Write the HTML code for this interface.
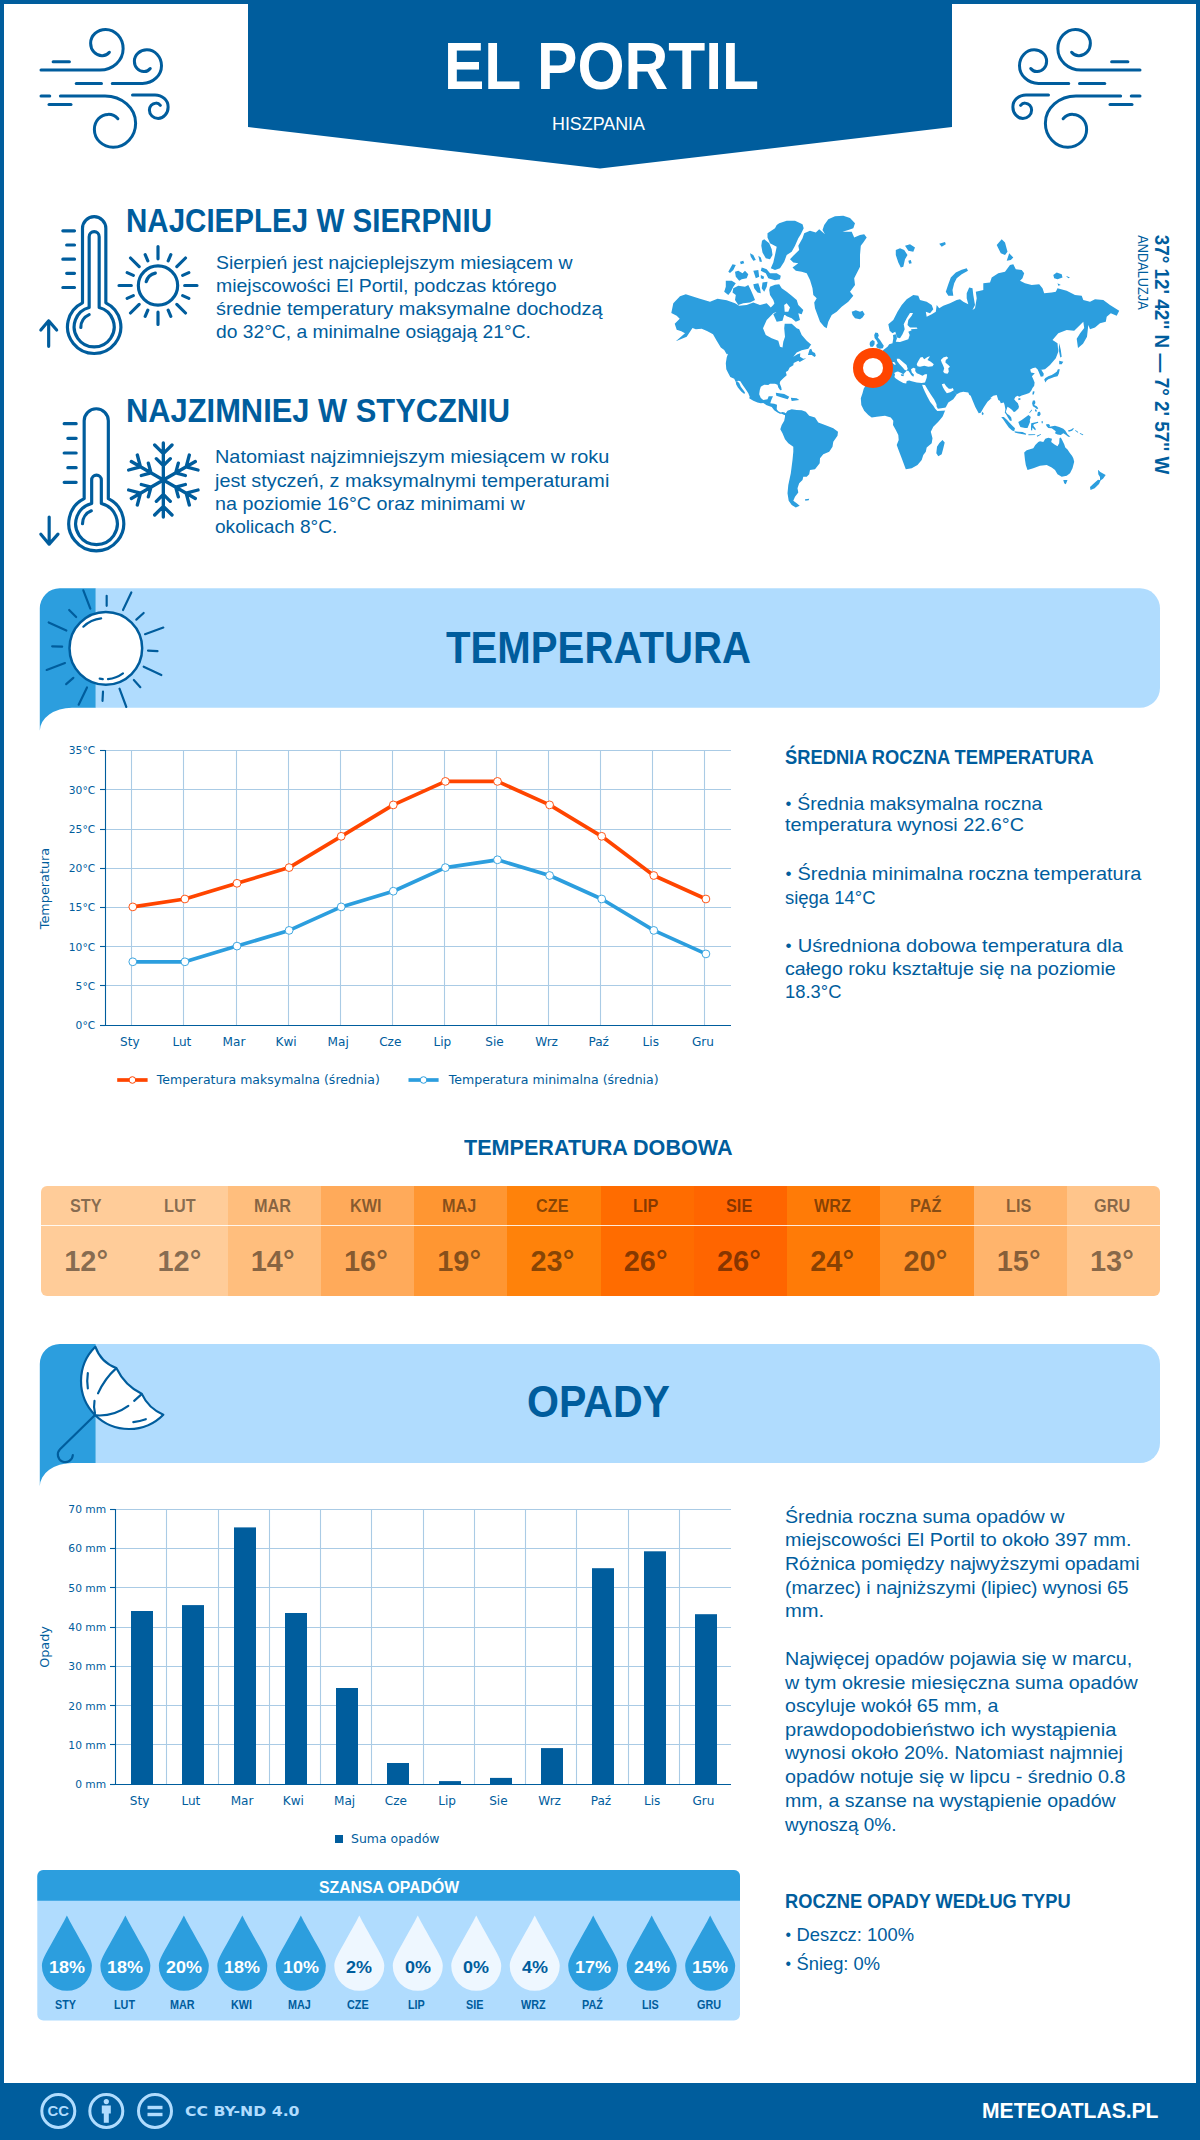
<!DOCTYPE html>
<html lang="pl"><head><meta charset="utf-8"><title>El Portil – klimat i pogoda</title>
<style>
html,body{margin:0;padding:0;background:#fff}
body{font-family:"Liberation Sans", sans-serif;color:#005d9d}
#page{position:relative;width:1200px;height:2140px;overflow:hidden;background:#fff}
#page>div,#page>svg{position:absolute}
#frame{left:0;top:0;width:1192px;height:2136px;border:4px solid #005d9d;border-bottom:0;box-sizing:content-box}
.t{position:absolute;white-space:nowrap;line-height:1;transform-origin:0 50%;color:#005d9d}
.w{color:#fff}
#texts{left:0;top:0;width:1200px;height:2140px}
svg{overflow:visible}
svg text{font-family:"DejaVu Sans", sans-serif;fill:#005d9d}
.b{display:inline-block;transform:scale(.86);transform-origin:50% 52%}

</style></head>
<body>
<div id="page">
<div id="frame"></div>
<svg id="hdr" style="left:0;top:0" width="1200" height="180" viewBox="0 0 1200 180"><polygon points="248,0 952,0 952,127 600,168.5 248,127" fill="#005d9d"/></svg>
<div id="footer" style="left:0;top:2083px;width:1200px;height:57px;background:#005d9d"></div>

<svg id="ban1" style="left:0;top:580px" width="1200" height="160" viewBox="0 580 1200 160">
<path d="M39.8,730.8 V608.3 a20,20 0 0 1 20,-20 H95.8 V707.75 H72 A32.2,23 0 0 0 39.8,730.8 Z" fill="#2c9ede"/>
<path d="M95.8,588.3 H1140 a20,20 0 0 1 20,20 V687.75 a20,20 0 0 1 -20,20 H95.8 Z" fill="#b0dcfe"/>
</svg>
<svg id="ban2" style="left:0;top:1335px" width="1200" height="160" viewBox="0 1335 1200 160">
<path d="M39.8,1486.3 V1364 a20,20 0 0 1 20,-20 H95.8 V1463 H72 A32.2,23.3 0 0 0 39.8,1486.3 Z" fill="#2c9ede"/>
<path d="M95.8,1344 H1140 a20,20 0 0 1 20,20 V1443 a20,20 0 0 1 -20,20 H95.8 Z" fill="#b0dcfe"/>
</svg>

<div id="dobowa" style="left:41px;top:1186px;width:1119px;height:110px;border-radius:6px;overflow:hidden">
<div style="position:absolute;left:0.0px;top:0;width:93.75px;height:110px;background:rgb(255, 204, 153)"></div><div style="position:absolute;left:93.25px;top:0;width:93.75px;height:110px;background:rgb(255, 204, 153)"></div><div style="position:absolute;left:186.5px;top:0;width:93.75px;height:110px;background:rgb(255, 190, 125)"></div><div style="position:absolute;left:279.75px;top:0;width:93.75px;height:110px;background:rgb(255, 170, 90)"></div><div style="position:absolute;left:373.0px;top:0;width:93.75px;height:110px;background:rgb(255, 150, 50)"></div><div style="position:absolute;left:466.25px;top:0;width:93.75px;height:110px;background:rgb(255, 130, 10)"></div><div style="position:absolute;left:559.5px;top:0;width:93.75px;height:110px;background:rgb(255, 108, 0)"></div><div style="position:absolute;left:652.75px;top:0;width:93.75px;height:110px;background:rgb(255, 101, 0)"></div><div style="position:absolute;left:746.0px;top:0;width:93.75px;height:110px;background:rgb(255, 123, 7)"></div><div style="position:absolute;left:839.25px;top:0;width:93.75px;height:110px;background:rgb(255, 145, 40)"></div><div style="position:absolute;left:932.5px;top:0;width:93.75px;height:110px;background:rgb(255, 180, 108)"></div><div style="position:absolute;left:1025.75px;top:0;width:93.75px;height:110px;background:rgb(255, 197, 139)"></div>
<div style="position:absolute;left:0;top:38.5px;width:1119px;height:1.5px;background:rgba(255,255,255,.85)"></div>
</div>

<svg id="chart1" style="left:0;top:735px" width="760" height="370" viewBox="0 735 760 370">
<g stroke="#aacbe5" stroke-width="1.1" fill="none">
<path d="M131.5,750.6 V1025.1"/><path d="M183.5,750.6 V1025.1"/><path d="M236.5,750.6 V1025.1"/><path d="M288.5,750.6 V1025.1"/><path d="M340.5,750.6 V1025.1"/><path d="M392.5,750.6 V1025.1"/><path d="M444.5,750.6 V1025.1"/><path d="M496.5,750.6 V1025.1"/><path d="M548.5,750.6 V1025.1"/><path d="M600.5,750.6 V1025.1"/><path d="M652.5,750.6 V1025.1"/><path d="M704.5,750.6 V1025.1"/>
<path d="M105.5,985.5 H731"/><path d="M105.5,946.5 H731"/><path d="M105.5,907.5 H731"/><path d="M105.5,868.5 H731"/><path d="M105.5,829.5 H731"/><path d="M105.5,789.5 H731"/><path d="M105.5,750.5 H731"/></g>
<g stroke="#005d9d" stroke-width="1.1" fill="none"><path d="M105.5,750.0 V1025.5 H731"/><path d="M100.0,1025.5 H105.5"/><path d="M100.0,985.5 H105.5"/><path d="M100.0,946.5 H105.5"/><path d="M100.0,907.5 H105.5"/><path d="M100.0,868.5 H105.5"/><path d="M100.0,829.5 H105.5"/><path d="M100.0,789.5 H105.5"/><path d="M100.0,750.5 H105.5"/></g>
<g font-size="10.7" text-anchor="end"><text x="95.2" y="1028.9">0°C</text><text x="95.2" y="989.7">5°C</text><text x="95.2" y="950.5">10°C</text><text x="95.2" y="911.3">15°C</text><text x="95.2" y="872.0">20°C</text><text x="95.2" y="832.8">25°C</text><text x="95.2" y="793.6">30°C</text><text x="95.2" y="754.4">35°C</text></g>
<g font-size="12.1" text-anchor="middle"><text x="129.8" y="1046.1">Sty</text><text x="181.9" y="1046.1">Lut</text><text x="234.0" y="1046.1">Mar</text><text x="286.1" y="1046.1">Kwi</text><text x="338.2" y="1046.1">Maj</text><text x="390.3" y="1046.1">Cze</text><text x="442.4" y="1046.1">Lip</text><text x="494.5" y="1046.1">Sie</text><text x="546.6" y="1046.1">Wrz</text><text x="598.7" y="1046.1">Paź</text><text x="650.8" y="1046.1">Lis</text><text x="702.9" y="1046.1">Gru</text></g>
<text font-size="12.8" text-anchor="middle" transform="translate(49.2,888.5) rotate(-90)">Temperatura</text>
<polyline points="132.8,906.9 184.9,899.0 237.0,883.3 289.1,867.6 341.2,836.3 393.3,804.9 445.4,781.4 497.5,781.4 549.6,804.9 601.7,836.3 653.8,875.5 705.9,899.0" fill="none" stroke="#ff4500" stroke-width="3.7" stroke-linejoin="round"/>
<g fill="#fff" stroke="#ff4500" stroke-width="0.9"><circle cx="132.8" cy="906.9" r="3.9"/><circle cx="184.9" cy="899.0" r="3.9"/><circle cx="237.0" cy="883.3" r="3.9"/><circle cx="289.1" cy="867.6" r="3.9"/><circle cx="341.2" cy="836.3" r="3.9"/><circle cx="393.3" cy="804.9" r="3.9"/><circle cx="445.4" cy="781.4" r="3.9"/><circle cx="497.5" cy="781.4" r="3.9"/><circle cx="549.6" cy="804.9" r="3.9"/><circle cx="601.7" cy="836.3" r="3.9"/><circle cx="653.8" cy="875.5" r="3.9"/><circle cx="705.9" cy="899.0" r="3.9"/></g>
<polyline points="132.8,961.8 184.9,961.8 237.0,946.1 289.1,930.4 341.2,906.9 393.3,891.2 445.4,867.6 497.5,859.8 549.6,875.5 601.7,899.0 653.8,930.4 705.9,953.9" fill="none" stroke="#2c9ede" stroke-width="3.7" stroke-linejoin="round"/>
<g fill="#fff" stroke="#2c9ede" stroke-width="0.9"><circle cx="132.8" cy="961.8" r="3.9"/><circle cx="184.9" cy="961.8" r="3.9"/><circle cx="237.0" cy="946.1" r="3.9"/><circle cx="289.1" cy="930.4" r="3.9"/><circle cx="341.2" cy="906.9" r="3.9"/><circle cx="393.3" cy="891.2" r="3.9"/><circle cx="445.4" cy="867.6" r="3.9"/><circle cx="497.5" cy="859.8" r="3.9"/><circle cx="549.6" cy="875.5" r="3.9"/><circle cx="601.7" cy="899.0" r="3.9"/><circle cx="653.8" cy="930.4" r="3.9"/><circle cx="705.9" cy="953.9" r="3.9"/></g>
<path d="M117.2,1080 H147.6" stroke="#ff4500" stroke-width="3.7"/><circle cx="132.4" cy="1080" r="3.3" fill="#fff" stroke="#ff4500"/><text x="156.8" y="1084" font-size="12.1" textLength="223" lengthAdjust="spacingAndGlyphs">Temperatura maksymalna (średnia)</text>
<path d="M408.5,1080 H438.6" stroke="#2c9ede" stroke-width="3.7"/><circle cx="423.5" cy="1080" r="3.3" fill="#fff" stroke="#2c9ede"/><text x="448.7" y="1084" font-size="12.1" textLength="210" lengthAdjust="spacingAndGlyphs">Temperatura minimalna (średnia)</text>
</svg>

<svg id="chart2" style="left:0;top:1495px" width="760" height="365" viewBox="0 1495 760 365">
<g stroke="#aacbe5" stroke-width="1.1" fill="none">
<path d="M166.5,1509.3 V1784.2"/><path d="M218.5,1509.3 V1784.2"/><path d="M269.5,1509.3 V1784.2"/><path d="M320.5,1509.3 V1784.2"/><path d="M371.5,1509.3 V1784.2"/><path d="M423.5,1509.3 V1784.2"/><path d="M474.5,1509.3 V1784.2"/><path d="M525.5,1509.3 V1784.2"/><path d="M576.5,1509.3 V1784.2"/><path d="M628.5,1509.3 V1784.2"/><path d="M679.5,1509.3 V1784.2"/>
<path d="M115.5,1744.5 H731"/><path d="M115.5,1705.5 H731"/><path d="M115.5,1666.5 H731"/><path d="M115.5,1627.5 H731"/><path d="M115.5,1587.5 H731"/><path d="M115.5,1548.5 H731"/><path d="M115.5,1509.5 H731"/></g>
<g fill="#005d9d"><rect x="131" y="1611.0" width="22" height="173.2"/><rect x="182" y="1605.1" width="22" height="179.1"/><rect x="234" y="1527.4" width="22" height="256.8"/><rect x="285" y="1613.0" width="22" height="171.2"/><rect x="336" y="1688.0" width="22" height="96.2"/><rect x="387" y="1763.0" width="22" height="21.2"/><rect x="439" y="1781.1" width="22" height="3.1"/><rect x="490" y="1777.9" width="22" height="6.3"/><rect x="541" y="1748.1" width="22" height="36.1"/><rect x="592" y="1568.2" width="22" height="216.0"/><rect x="644" y="1551.3" width="22" height="232.9"/><rect x="695" y="1614.2" width="22" height="170.0"/></g>
<g stroke="#005d9d" stroke-width="1.1" fill="none"><path d="M115.5,1509.0 V1784.5 H731"/><path d="M110.0,1784.5 H115.5"/><path d="M110.0,1744.5 H115.5"/><path d="M110.0,1705.5 H115.5"/><path d="M110.0,1666.5 H115.5"/><path d="M110.0,1627.5 H115.5"/><path d="M110.0,1587.5 H115.5"/><path d="M110.0,1548.5 H115.5"/><path d="M110.0,1509.5 H115.5"/></g>
<g font-size="10.7" text-anchor="end"><text x="106.2" y="1788.0">0 mm</text><text x="106.2" y="1748.7">10 mm</text><text x="106.2" y="1709.5">20 mm</text><text x="106.2" y="1670.2">30 mm</text><text x="106.2" y="1630.9">40 mm</text><text x="106.2" y="1591.6">50 mm</text><text x="106.2" y="1552.4">60 mm</text><text x="106.2" y="1513.1">70 mm</text></g>
<g font-size="12.1" text-anchor="middle"><text x="139.6" y="1805.1">Sty</text><text x="190.9" y="1805.1">Lut</text><text x="242.1" y="1805.1">Mar</text><text x="293.4" y="1805.1">Kwi</text><text x="344.6" y="1805.1">Maj</text><text x="395.9" y="1805.1">Cze</text><text x="447.1" y="1805.1">Lip</text><text x="498.4" y="1805.1">Sie</text><text x="549.6" y="1805.1">Wrz</text><text x="600.9" y="1805.1">Paź</text><text x="652.1" y="1805.1">Lis</text><text x="703.4" y="1805.1">Gru</text></g>
<text font-size="12.8" text-anchor="middle" transform="translate(49.2,1647) rotate(-90)">Opady</text>
<rect x="335" y="1835" width="8" height="8" fill="#005d9d"/><text x="351" y="1843" font-size="12.1" textLength="88.5" lengthAdjust="spacingAndGlyphs">Suma opadów</text>
</svg>

<svg id="szansa" style="left:0;top:1860px" width="760" height="170" viewBox="0 1860 760 170">
<path d="M37.3,2014.5 V1876 a6,6 0 0 1 6,-6 H734 a6,6 0 0 1 6,6 V2014.5 a6,6 0 0 1 -6,6 H43.3 a6,6 0 0 1 -6,-6 Z" fill="#b0dcfe"/>
<path d="M37.3,1900.7 V1876 a6,6 0 0 1 6,-6 H734 a6,6 0 0 1 6,6 V1900.7 Z" fill="#2c9ede"/>
<path transform="translate(66.90,1965.8)" d="M0,-50.3 C3,-44 10,-32 15.5,-22 C21,-12 25,-6 25,0 A25,25 0 1 1 -25,0 C-25,-6 -21,-12 -15.5,-22 C-10,-32 -3,-44 0,-50.3 Z" fill="#2c9ede"/>
<path transform="translate(125.38,1965.8)" d="M0,-50.3 C3,-44 10,-32 15.5,-22 C21,-12 25,-6 25,0 A25,25 0 1 1 -25,0 C-25,-6 -21,-12 -15.5,-22 C-10,-32 -3,-44 0,-50.3 Z" fill="#2c9ede"/>
<path transform="translate(183.86,1965.8)" d="M0,-50.3 C3,-44 10,-32 15.5,-22 C21,-12 25,-6 25,0 A25,25 0 1 1 -25,0 C-25,-6 -21,-12 -15.5,-22 C-10,-32 -3,-44 0,-50.3 Z" fill="#2c9ede"/>
<path transform="translate(242.34,1965.8)" d="M0,-50.3 C3,-44 10,-32 15.5,-22 C21,-12 25,-6 25,0 A25,25 0 1 1 -25,0 C-25,-6 -21,-12 -15.5,-22 C-10,-32 -3,-44 0,-50.3 Z" fill="#2c9ede"/>
<path transform="translate(300.82,1965.8)" d="M0,-50.3 C3,-44 10,-32 15.5,-22 C21,-12 25,-6 25,0 A25,25 0 1 1 -25,0 C-25,-6 -21,-12 -15.5,-22 C-10,-32 -3,-44 0,-50.3 Z" fill="#2c9ede"/>
<path transform="translate(359.30,1965.8)" d="M0,-50.3 C3,-44 10,-32 15.5,-22 C21,-12 25,-6 25,0 A25,25 0 1 1 -25,0 C-25,-6 -21,-12 -15.5,-22 C-10,-32 -3,-44 0,-50.3 Z" fill="#eef7ff"/>
<path transform="translate(417.78,1965.8)" d="M0,-50.3 C3,-44 10,-32 15.5,-22 C21,-12 25,-6 25,0 A25,25 0 1 1 -25,0 C-25,-6 -21,-12 -15.5,-22 C-10,-32 -3,-44 0,-50.3 Z" fill="#eef7ff"/>
<path transform="translate(476.26,1965.8)" d="M0,-50.3 C3,-44 10,-32 15.5,-22 C21,-12 25,-6 25,0 A25,25 0 1 1 -25,0 C-25,-6 -21,-12 -15.5,-22 C-10,-32 -3,-44 0,-50.3 Z" fill="#eef7ff"/>
<path transform="translate(534.74,1965.8)" d="M0,-50.3 C3,-44 10,-32 15.5,-22 C21,-12 25,-6 25,0 A25,25 0 1 1 -25,0 C-25,-6 -21,-12 -15.5,-22 C-10,-32 -3,-44 0,-50.3 Z" fill="#eef7ff"/>
<path transform="translate(593.22,1965.8)" d="M0,-50.3 C3,-44 10,-32 15.5,-22 C21,-12 25,-6 25,0 A25,25 0 1 1 -25,0 C-25,-6 -21,-12 -15.5,-22 C-10,-32 -3,-44 0,-50.3 Z" fill="#2c9ede"/>
<path transform="translate(651.70,1965.8)" d="M0,-50.3 C3,-44 10,-32 15.5,-22 C21,-12 25,-6 25,0 A25,25 0 1 1 -25,0 C-25,-6 -21,-12 -15.5,-22 C-10,-32 -3,-44 0,-50.3 Z" fill="#2c9ede"/>
<path transform="translate(710.18,1965.8)" d="M0,-50.3 C3,-44 10,-32 15.5,-22 C21,-12 25,-6 25,0 A25,25 0 1 1 -25,0 C-25,-6 -21,-12 -15.5,-22 C-10,-32 -3,-44 0,-50.3 Z" fill="#2c9ede"/>
</svg>

<svg id="windL" style="left:30px;top:20px" width="150" height="135" viewBox="0 0 1200 1080" fill="none" stroke="#005d9d" stroke-width="24" stroke-linecap="round" stroke-linejoin="round">
<g id="windg">
<path d="M185,333 H315"/>
<path d="M88,400 H560 A185,170 0 0 0 745,230 A140,155 0 0 0 605,75 A120,110 0 0 0 485,185 A90,100 0 0 0 575,285 A72,72 0 0 0 635,258"/>
<path d="M370,507 H572"/>
<path d="M658,507 H900 A152,142 0 0 0 1052,365 A117,127 0 0 0 935,238 A100,92 0 0 0 835,330 A75,82 0 0 0 910,412 A60,60 0 0 0 962,388"/>
<path d="M88,608 H158"/>
<path d="M243,608 H600 A245,217 0 0 1 845,825 A180,193 0 0 1 665,1018 A150,143 0 0 1 515,875 A110,120 0 0 1 625,755 A100,100 0 0 1 703,790"/>
<path d="M152,675 H328"/>
<path d="M820,600 H1000 A105,95 0 0 1 1105,695 A80,93 0 0 1 1025,788 A70,68 0 0 1 955,720 A50,55 0 0 1 1005,665 A45,45 0 0 1 1043,683"/>
</g>
</svg>
<svg id="windR" style="left:1001px;top:20px" width="150" height="135" viewBox="0 0 1200 1080" fill="none" stroke="#005d9d" stroke-width="24" stroke-linecap="round" stroke-linejoin="round">
<use href="#windg" transform="translate(1200,0) scale(-1,1)"/>
</svg>
<svg id="thermoHot" style="left:20px;top:190px" width="200" height="180" viewBox="0 0 1200 1080" fill="none" stroke="#005d9d" stroke-width="19" stroke-linecap="round" stroke-linejoin="round">
<path d="M375,677 V230 A70,70 0 0 1 515,230 V677 A160,160 0 1 1 375,677 Z"/>
<path d="M415,705 V280 A30,30 0 0 1 475,280 V705 A120,120 0 1 1 415,705 Z"/>
<path d="M365,825 A82,82 0 0 1 415,748"/>
<path d="M257,245 H327 M280,330 H327 M257,415 H327 M280,500 H327 M257,585 H327"/>
<path d="M172,938 V785 M125,840 L172,785 L220,840"/>
<circle cx="828" cy="573" r="118"/>
<path d="M757,550 A75,75 0 0 1 812,499"/>
<path d="M988,573 L1062,573 M976,634 L1013,650 M941,686 L993,738 M889,721 L905,758 M828,733 L828,807 M767,721 L751,758 M715,686 L663,738 M680,634 L643,650 M668,573 L594,573 M680,512 L643,496 M715,460 L663,408 M767,425 L751,388 M828,413 L828,339 M889,425 L905,388 M941,460 L993,408 M976,512 L1013,496"/>
</svg>
<svg id="thermoCold" style="left:20px;top:380px" width="200" height="180" viewBox="0 0 1200 1080" fill="none" stroke="#005d9d" stroke-width="19" stroke-linecap="round" stroke-linejoin="round">
<path d="M385,712 V245 A72.5,72.5 0 0 1 530,245 V712 A165,165 0 1 1 385,712 Z"/>
<path d="M430,741 V600 A29,29 0 0 1 488,600 V741 A125,125 0 1 1 430,741 Z"/>
<path d="M375,862 A84,84 0 0 1 428,785"/>
<path d="M265,262 H337 M287,350 H337 M265,438 H337 M287,526 H337 M265,614 H337"/>
<path d="M175,822 V985 M125,925 L175,985 L228,925"/>
<path stroke-width="20" d="M860,600 L860,378 M860,442 L808,390 M860,442 L912,390 M860,514 L818,472 M860,514 L902,472 M860,600 L1052,489 M997,521 L1016,450 M997,521 L1068,540 M934,557 L950,499 M934,557 L992,573 M860,600 L1052,711 M997,679 L1068,660 M997,679 L1016,750 M934,643 L992,627 M934,643 L950,701 M860,600 L860,822 M860,758 L912,810 M860,758 L808,810 M860,686 L902,728 M860,686 L818,728 M860,600 L668,711 M723,679 L704,750 M723,679 L652,660 M786,643 L770,701 M786,643 L728,627 M860,600 L668,489 M723,521 L652,540 M723,521 L704,450 M786,557 L728,573 M786,557 L770,499"/>
</svg>

<svg id="bigsun" style="left:20px;top:570px" width="200" height="180" viewBox="0 0 1200 1080" fill="none" stroke="#005d9d" stroke-width="13" stroke-linecap="round" stroke-linejoin="round">
<path d="M380,122 L422,232 M668,135 L618,240 M860,345 L750,385 M848,630 L742,580 M638,822 L597,712 M352,808 L402,705 M160,600 L270,558 M172,315 L278,363"/>
<path d="M520,155 V215 M742,258 L698,298 M825,487 L768,484 M722,703 L683,660 M495,785 L498,730 M277,685 L320,647 M193,458 L253,460 M295,240 L337,282"/>
<circle cx="515" cy="470" r="218" fill="#fff" stroke-width="15"/>
<path d="M380,340 A180,180 0 0 1 487,290 M528,655 A185,185 0 0 0 618,620 M478,652 L497,655"/>
</svg>
<svg id="umbrella" style="left:20px;top:1330px" width="200" height="180" viewBox="0 0 1200 1080" fill="none" stroke="#005d9d" stroke-width="13" stroke-linecap="round" stroke-linejoin="round">
<path d="M450,510 L240,716 A45,45 0 1 0 317,750"/>
<path d="M452,100 Q485,195 578,228 Q630,335 730,382 Q770,470 860,508 A290,290 0 0 1 450,510 A290,290 0 0 1 452,100 Z" fill="#fff"/>
<path d="M450,500 Q440,465 447,425 M468,380 Q510,290 575,232 M455,512 Q560,520 650,455 M685,425 L730,385 M407,258 Q400,305 407,350 M680,553 Q720,548 755,535"/>
</svg>
<svg id="cc" style="left:30px;top:2090px" width="160" height="42" viewBox="30 2090 160 42" fill="none" stroke="#b0dcfe" stroke-width="3">
<circle cx="58.3" cy="2111" r="16.5"/><circle cx="106.3" cy="2111" r="16.5"/><circle cx="155" cy="2111" r="16.5"/>
<text x="58.3" y="2116" text-anchor="middle" font-size="14" font-weight="700" stroke="none" style="fill:#b0dcfe;font-family:'Liberation Sans',sans-serif" textLength="21.5" lengthAdjust="spacingAndGlyphs">CC</text>
<g fill="#b0dcfe" stroke="none"><circle cx="106.3" cy="2101.6" r="2.6"/><path d="M101.8,2105.4 h9 v8 h-2 v9.4 h-5 v-9.4 h-2 Z"/>
<rect x="147.5" y="2105.8" width="15" height="3.4"/><rect x="147.5" y="2112.8" width="15" height="3.4"/></g>
</svg>

<svg id="map" style="left:660px;top:205px" width="480" height="320" viewBox="660 205 480 320">
<path fill="#2c9ede" d="M671.3,313.0 673.3,303.3 680.0,296.3 685.8,294.2 698.3,298.3 710.0,301.7 717.5,298.7 726.7,300.3 735.0,303.3 739.2,305.8 746.7,305.0 753.3,302.5 760.0,305.0 766.7,303.3 770.8,307.5 773.3,305.0 776.7,300.0 779.2,305.0 776.7,311.7 773.3,313.3 766.7,320.0 763.0,328.3 765.8,335.0 771.7,338.3 778.3,340.8 780.0,346.7 782.5,347.5 783.3,341.7 785.0,336.7 784.2,328.3 784.7,323.7 791.7,323.7 796.7,328.3 799.2,329.2 801.7,335.0 806.7,340.8 811.3,344.7 810.8,345.0 808.3,348.7 801.7,350.3 796.7,352.5 793.3,356.7 797.5,354.2 800.3,353.3 800.0,356.7 803.3,358.7 806.3,358.3 799.7,362.0 798.3,360.8 793.7,363.0 793.3,365.3 789.7,367.5 788.0,370.8 785.8,372.0 786.7,375.3 783.3,378.3 780.3,381.3 779.7,383.3 781.3,387.5 781.7,390.0 780.2,390.3 778.3,387.5 777.5,384.7 775.0,383.7 770.0,383.7 768.3,385.0 764.2,384.7 760.8,386.7 759.8,390.0 759.2,394.2 760.8,398.0 763.3,400.0 767.5,399.2 768.7,396.3 773.0,396.3 771.3,400.0 770.3,403.3 774.2,403.7 777.0,404.7 776.7,409.2 778.3,411.3 780.8,412.5 782.5,412.0 784.7,412.5 786.3,414.2 784.2,415.0 781.7,413.7 780.0,413.7 777.5,412.5 774.2,410.3 771.7,407.0 766.7,405.3 763.3,403.0 760.8,403.3 757.5,402.5 753.3,400.8 749.2,398.3 749.7,396.7 748.3,393.3 746.0,389.7 742.7,385.0 740.3,381.3 738.0,380.7 735.8,382.0 734.2,378.7 730.3,377.0 728.3,373.3 726.3,369.2 725.8,363.3 726.7,357.5 728.0,353.7 726.7,354.2 724.2,350.0 720.8,347.5 716.7,340.8 713.0,334.2 707.5,331.3 701.7,328.7 695.8,329.2 692.5,328.0 686.7,336.7 675.8,341.3 685.0,333.3 681.3,331.3 676.7,329.7 674.7,323.7 679.7,318.7 676.7,315.8Z M775.0,298.3 784.2,298.3 786.7,303.3 784.2,305.0 784.7,311.7 789.2,311.7 788.3,314.2 784.2,315.0 782.5,320.8 776.7,321.7 773.3,314.2 776.7,311.7 779.2,305.0Z M735.8,382.1 737.7,381.5 739.3,383.3 740.8,386.7 744.2,391.2 745.0,392.7 744.3,394.0 741.2,391.5 737.9,387.5 736.2,384.6Z M809.6,349.6 811.2,348.8 812.5,351.7 815.0,352.9 815.8,355.8 814.6,357.1 811.7,355.0 807.9,355.0Z M775.8,392.8 784.2,394.0 789.3,396.8 787.7,399.3 782.5,397.7 776.3,395.8Z M790.8,397.8 796.7,398.2 799.3,400.0 791.7,401.0Z M785.0,414.2 787.5,410.8 791.7,409.2 796.7,410.0 801.7,410.3 805.8,411.7 809.2,415.8 815.0,417.5 818.3,422.5 825.0,425.0 833.3,428.3 838.0,431.7 837.5,435.8 833.3,441.7 832.5,446.7 829.2,451.7 823.3,454.2 820.0,458.3 819.7,463.3 815.0,469.2 810.0,470.0 809.2,474.2 806.7,476.7 803.3,476.7 802.5,480.0 799.2,483.3 797.5,488.3 798.3,492.5 795.0,496.7 793.3,500.8 796.7,503.3 799.7,505.8 795.8,507.5 791.7,505.0 788.7,500.8 787.5,493.3 788.3,485.0 790.8,473.3 792.5,460.0 793.3,451.7 793.3,446.7 788.3,443.3 785.0,439.2 782.5,433.3 780.3,429.2 781.7,425.0 784.2,420.8 785.0,416.7Z M805.0,499.2 809.2,498.7 808.7,500.3 805.3,500.8Z M779.2,223.3 786.7,220.8 795.0,220.8 802.5,224.2 803.7,228.3 800.8,234.2 798.3,238.3 795.0,245.8 791.7,251.7 786.7,255.0 784.2,261.7 780.0,268.3 775.0,270.0 770.8,268.3 773.3,262.5 775.0,255.0 776.7,246.7 770.0,243.3 767.5,237.5 767.5,233.3 775.0,228.3 776.7,225.0Z M764.2,239.2 769.2,243.3 771.7,249.2 772.5,255.0 770.0,259.2 765.8,258.3 762.5,252.5 761.3,245.8 762.0,240.8Z M761.7,267.5 766.7,269.2 770.0,273.3 776.7,273.3 780.8,275.8 780.0,279.2 775.0,280.3 768.3,278.3 765.8,273.3 760.8,270.8Z M770.0,286.7 775.0,284.7 779.2,284.2 781.7,288.3 786.7,291.7 791.7,295.8 796.7,300.0 798.3,305.0 803.3,310.0 801.7,314.2 798.3,313.3 800.0,320.0 795.8,321.7 791.7,318.3 786.7,316.3 784.2,314.2 788.3,311.7 790.0,307.5 786.7,303.3 783.3,298.3 776.7,298.3 775.0,305.0 773.3,300.0 770.0,295.0 769.2,290.0Z M733.3,288.3 738.3,285.8 745.0,286.7 748.3,285.0 750.8,290.0 753.3,295.8 755.0,300.0 750.0,302.5 743.3,303.3 738.3,305.0 735.0,300.0 735.8,295.0 732.5,292.5Z M725.8,280.8 731.7,280.8 735.8,283.3 733.3,286.7 730.8,291.7 728.3,295.0 724.2,291.7 725.8,286.7Z M735.0,271.7 738.3,270.8 742.5,273.3 745.0,270.8 748.3,274.2 746.7,278.3 741.7,279.2 739.2,280.8 735.8,276.7Z M728.3,271.7 732.5,264.2 735.8,265.0 733.3,270.0 730.0,273.0Z M753.3,270.8 758.3,270.0 759.2,276.7 755.8,278.3Z M760.8,275.0 764.2,276.7 763.3,279.2 760.8,278.3Z M753.3,284.2 758.3,283.3 760.0,288.3 760.8,293.3 757.5,292.5 754.2,288.3Z M762.5,282.5 767.5,281.7 766.7,286.7 764.2,291.7 761.7,288.3Z M740.0,261.7 743.3,260.8 744.2,263.3 740.8,264.2Z M750.0,253.3 753.3,255.0 755.8,260.0 753.3,260.8 750.8,256.7Z M758.3,255.8 760.8,257.5 762.0,261.7 759.7,261.7Z M824.2,225.0 828.3,219.2 835.0,216.3 843.3,215.8 850.0,218.0 855.0,223.3 853.3,228.3 848.3,230.0 842.5,231.7 851.7,231.7 854.2,237.5 860.0,235.0 864.2,234.2 866.7,237.5 863.3,242.5 860.8,245.8 860.0,255.0 860.0,266.7 857.5,271.7 854.2,278.3 855.0,285.0 850.0,291.7 853.3,295.8 848.3,301.7 841.7,306.7 836.7,311.7 831.7,315.0 828.3,321.7 826.7,328.3 824.2,326.7 820.0,321.7 817.5,315.0 815.0,308.3 814.2,302.5 816.7,298.3 813.3,295.0 812.5,288.3 810.0,280.0 806.7,273.3 801.7,271.7 795.8,270.8 792.5,267.5 798.3,263.3 793.3,262.5 790.0,259.2 793.3,255.8 799.2,250.0 798.3,245.8 802.5,238.3 804.2,233.3 810.0,230.8 815.8,232.5 819.2,229.2 825.0,234.2 822.5,230.0Z M851.7,311.7 855.8,310.3 860.0,311.7 862.5,310.8 864.7,314.2 862.5,317.5 860.0,319.2 855.0,318.3 852.5,315.0Z M875.4,332.5 877.9,332.9 878.8,335.4 877.9,337.5 880.0,340.0 882.1,343.3 883.8,345.8 882.9,348.3 879.6,348.8 876.7,347.5 876.2,345.0 877.9,343.3 876.7,340.8 874.6,337.9 874.2,335.0Z M870.0,342.1 872.5,340.0 874.6,341.2 874.6,344.2 872.9,346.7 870.4,346.7 869.6,344.2Z M883.3,350.0 887.5,346.7 889.2,344.2 892.5,343.3 893.3,338.3 893.0,335.0 895.8,334.2 897.0,338.3 895.8,341.7 900.0,342.0 908.3,339.2 909.7,335.0 908.3,331.7 911.7,330.3 910.8,329.2 917.5,328.7 916.7,327.5 910.0,327.5 907.5,325.0 908.3,320.0 911.7,315.8 913.0,313.0 910.0,313.0 906.7,318.3 903.7,324.2 904.7,329.2 902.5,334.2 900.0,338.3 897.0,337.5 895.3,331.7 892.5,333.3 889.7,330.8 888.3,324.2 893.3,320.0 897.5,311.7 901.7,305.0 906.7,299.2 913.3,295.0 918.3,295.8 920.0,300.0 926.7,301.7 931.7,305.0 933.3,309.2 930.0,313.3 925.8,311.7 926.7,316.7 931.7,314.2 935.8,311.7 936.7,305.0 939.2,308.3 943.3,305.8 950.0,303.3 956.7,300.0 960.0,299.2 963.3,301.7 968.3,304.2 966.7,298.3 966.7,293.3 969.2,287.5 972.5,288.3 973.3,295.0 975.0,305.0 972.5,310.0 975.0,308.3 976.7,298.3 975.8,291.7 983.3,290.0 983.3,283.3 990.0,282.5 991.7,277.5 998.3,273.3 1005.0,271.7 1010.0,265.0 1013.3,264.2 1015.8,269.2 1021.7,270.0 1024.2,273.3 1022.5,278.3 1020.0,280.8 1025.0,283.3 1031.7,285.0 1039.2,284.2 1042.5,288.3 1044.2,293.3 1051.7,292.5 1055.8,291.7 1057.5,288.3 1066.7,290.8 1075.0,295.0 1081.7,295.8 1083.3,300.0 1090.0,301.7 1095.0,299.2 1103.3,300.0 1110.0,305.0 1119.2,310.8 1116.7,315.8 1110.8,313.3 1106.7,316.7 1105.8,321.7 1100.0,323.3 1095.0,327.5 1090.0,329.2 1088.3,325.0 1087.0,336.7 1083.0,343.7 1078.0,348.0 1076.7,338.7 1080.3,333.0 1084.2,328.0 1083.3,321.7 1078.3,326.7 1074.2,330.8 1066.7,330.0 1058.3,333.3 1052.5,340.0 1057.5,343.3 1058.3,351.7 1055.8,358.3 1050.0,365.0 1045.0,369.2 1040.0,370.0 1041.2,369.6 1042.5,371.7 1043.8,373.8 1043.3,376.2 1040.8,376.8 1039.8,374.6 1038.8,372.1 1037.5,369.2 1035.4,367.5 1032.5,368.3 1030.2,369.6 1031.0,372.5 1034.8,373.3 1031.9,376.2 1033.3,379.2 1034.6,382.5 1034.2,385.8 1032.5,387.9 1031.2,390.8 1029.2,392.9 1025.8,394.2 1021.7,395.4 1019.2,396.7 1017.5,395.8 1015.4,397.1 1014.2,399.2 1015.8,401.2 1017.9,403.3 1019.0,406.7 1018.3,408.8 1015.0,411.7 1013.8,412.1 1012.1,410.0 1009.6,407.9 1007.5,406.7 1006.7,409.2 1005.8,411.7 1007.1,413.8 1009.6,415.4 1011.2,417.5 1011.8,420.8 1010.0,420.8 1007.9,417.5 1006.2,414.6 1004.8,412.5 1005.4,409.2 1004.6,405.0 1003.8,402.5 1000.8,403.3 999.8,400.8 998.3,400.0 996.7,395.0 993.3,395.8 990.0,398.3 991.7,398.0 987.5,401.7 983.7,407.5 980.7,412.7 978.7,413.3 975.3,407.0 972.7,400.8 970.7,395.8 969.2,394.7 968.3,392.5 963.3,391.7 960.0,392.5 956.7,394.2 953.3,390.8 956.7,394.5 953.3,399.2 948.3,402.5 945.3,408.3 945.3,410.0 943.3,415.0 942.5,416.7 938.3,421.7 933.3,426.7 930.8,431.7 932.5,438.3 931.7,443.3 926.7,447.5 925.8,451.7 923.3,455.0 921.7,460.0 917.5,465.0 911.7,468.3 905.8,469.2 904.2,465.0 901.7,458.3 899.2,451.7 896.7,445.0 898.7,440.0 898.3,435.0 895.8,430.0 893.0,425.0 893.3,420.8 890.8,417.5 885.0,415.8 876.7,416.7 871.7,417.5 868.3,415.0 864.2,410.8 861.3,405.0 860.8,398.3 862.5,393.3 863.7,388.7 870.0,378.3 876.7,361.7 883.3,350.0Z M942.5,440.0 944.7,442.5 943.3,448.3 941.7,454.2 938.3,456.3 936.3,453.3 937.0,446.7 939.2,443.3Z M966.7,268.3 968.0,270.8 961.7,274.2 956.7,278.3 954.2,283.3 952.5,290.0 953.3,295.8 948.3,295.8 945.8,291.7 948.3,284.2 950.8,277.5 955.8,272.5 961.7,269.7Z M895.8,250.0 900.0,248.3 904.2,250.0 907.5,255.0 905.0,259.2 903.3,266.7 900.8,267.5 898.3,262.5 895.8,255.0Z M905.0,245.8 910.0,244.2 915.0,247.5 913.3,251.7 908.3,250.8Z M908.3,260.8 910.8,260.0 911.7,263.3 909.2,263.7Z M939.2,243.7 945.0,242.0 945.8,244.2 941.7,246.7Z M996.7,245.0 1001.7,239.2 1005.0,242.5 1007.5,251.7 1005.0,255.0 1000.8,253.3 998.3,248.3Z M1009.2,253.3 1013.3,257.5 1010.8,260.0 1006.7,260.8Z M1053.3,275.0 1056.7,272.5 1061.7,274.2 1062.5,277.5 1057.5,279.2 1054.2,278.3Z M1065.8,275.8 1070.0,277.5 1068.3,278.3Z M1057.5,283.3 1060.8,285.0 1058.3,285.8Z M1059.2,343.3 1060.8,350.0 1061.7,356.7 1060.3,357.5 1058.7,350.0Z M1059.2,360.8 1063.3,361.7 1061.7,364.2 1059.2,364.2Z M1017.9,398.8 1020.0,397.9 1020.8,399.2 1018.8,400.2Z M1032.9,391.2 1034.6,391.5 1033.8,394.6 1032.3,394.6Z M1044.2,379.6 1045.4,377.9 1048.3,376.2 1051.7,375.0 1053.8,373.8 1056.7,371.7 1057.9,369.2 1059.8,369.2 1058.8,373.8 1057.5,376.2 1054.2,377.1 1051.7,377.9 1048.3,379.2 1046.7,380.4 1045.4,382.5Z M1032.9,400.4 1035.0,400.4 1035.4,402.9 1034.2,405.0 1036.7,406.2 1038.3,408.3 1037.1,409.2 1035.0,407.5 1032.9,406.2 1032.1,403.3Z M1037.9,412.1 1040.0,411.7 1040.7,414.2 1039.2,416.2 1037.1,415.4Z M1035.0,409.2 1036.7,410.0 1036.7,411.7 1035.0,411.2Z M1029.2,412.5 1031.7,409.6 1032.1,410.2 1029.8,412.9Z M1018.3,422.1 1021.7,420.0 1025.8,417.1 1028.5,415.0 1030.8,417.1 1029.8,420.0 1030.0,422.1 1028.8,425.0 1027.5,427.9 1025.0,427.9 1020.4,427.1 1019.2,424.6Z M1001.2,417.1 1003.8,417.1 1007.1,420.0 1010.0,423.3 1012.9,426.2 1015.0,428.3 1014.2,431.2 1012.1,430.4 1008.8,427.5 1005.8,423.3 1003.3,419.6Z M1014.6,431.2 1018.3,431.7 1022.5,432.1 1026.2,433.8 1025.8,434.8 1021.7,434.0 1017.5,433.3 1014.8,432.5Z M1028.3,434.2 1035.0,434.2 1035.4,435.0 1028.5,435.2Z M1036.7,435.8 1040.8,434.0 1041.2,434.6 1037.3,436.7Z M1031.2,423.3 1037.9,421.8 1038.3,422.7 1033.8,424.2 1033.3,425.8 1035.4,428.3 1035.8,430.2 1034.2,429.6 1032.5,427.5 1032.1,430.4 1031.0,430.2 1031.0,426.7Z M1041.5,421.2 1042.7,421.0 1042.9,423.3 1041.7,423.3Z M1045.8,424.6 1048.3,424.0 1050.0,425.0 1049.6,426.7 1052.1,426.2 1055.0,425.7 1059.2,427.1 1063.3,428.8 1065.4,430.8 1067.5,434.2 1070.4,436.7 1068.3,436.7 1065.4,434.6 1063.3,433.3 1060.8,435.0 1057.5,434.6 1055.0,433.3 1055.8,431.2 1051.7,428.3 1048.3,427.9 1046.7,426.2Z M1067.9,430.4 1071.2,429.6 1073.3,427.9 1073.8,428.8 1072.1,430.8 1068.8,431.7Z M1075.4,430.0 1078.3,432.1 1077.9,432.7 1075.2,430.8Z M1080.0,432.9 1083.3,434.6 1082.9,435.2 1079.8,433.8Z M982.0,411.7 983.7,413.3 983.0,415.3 981.7,414.2Z M1024.2,452.5 1026.7,450.3 1033.3,448.3 1035.3,445.0 1038.3,442.0 1040.0,441.2 1043.3,442.0 1045.3,438.7 1048.3,437.8 1052.0,438.7 1051.2,442.0 1054.5,444.5 1057.5,446.2 1059.2,443.3 1059.5,438.3 1060.8,437.5 1062.5,440.8 1064.2,444.2 1065.3,447.5 1067.5,449.5 1070.0,453.3 1072.0,455.8 1073.3,458.3 1074.2,461.7 1072.5,468.3 1070.0,473.3 1066.7,475.8 1061.7,476.7 1057.5,474.2 1055.0,470.0 1051.7,467.5 1046.7,465.0 1040.0,465.8 1033.3,468.3 1027.5,470.0 1025.8,465.0 1025.0,460.0Z M1063.3,480.0 1067.5,480.0 1065.8,484.2 1064.2,483.3Z M1098.0,469.7 1100.3,472.0 1105.7,475.0 1103.0,478.7 1100.0,480.7 1100.0,477.0 1098.3,474.2Z M1100.7,480.3 1099.0,484.0 1094.7,488.3 1090.5,490.0 1090.0,487.0 1094.3,483.0 1098.0,479.7Z"/>
<path fill="#fff" d="M896.8,358.8 899.2,358.8 902.9,362.1 906.5,365.0 907.7,368.8 906.7,370.4 904.8,370.0 902.7,367.5 899.6,364.2 897.1,361.0Z M894.2,372.9 897.5,371.2 901.2,372.9 903.3,374.2 906.7,370.8 908.3,370.8 910.0,372.9 911.2,375.0 913.3,376.7 914.0,374.8 911.8,372.5 911.0,369.3 913.3,367.7 915.4,368.5 915.2,371.0 916.8,373.3 919.3,374.2 922.5,375.8 925.0,374.2 927.1,374.2 926.7,377.7 925.0,382.5 921.7,383.0 916.7,382.5 911.7,381.2 909.2,380.4 906.7,381.0 906.2,383.5 903.3,383.0 899.2,380.7 895.8,378.5 894.4,377.1 895.0,374.6Z M892.3,362.1 894.2,362.1 895.8,364.2 895.0,365.0 893.3,363.8Z M916.7,364.2 917.9,361.7 920.4,357.5 922.5,357.1 924.2,359.2 927.5,357.1 930.0,356.2 928.3,358.8 927.5,360.0 930.8,361.7 933.8,364.2 932.5,366.2 928.3,366.7 924.2,365.8 920.0,366.7 917.5,366.2Z M940.8,360.0 943.3,357.5 946.7,356.5 948.3,357.9 945.8,360.0 945.4,362.5 948.3,365.0 950.0,366.7 948.3,368.3 948.8,371.7 947.5,373.8 944.6,373.3 943.2,371.7 944.2,368.3 942.9,365.0 941.7,362.5Z M922.1,384.8 925.0,385.0 927.5,389.2 930.8,394.6 934.2,399.6 936.5,404.2 936.7,406.8 937.9,408.8 946.2,407.5 946.5,410.4 937.3,411.0 935.2,408.8 933.3,405.8 930.2,402.1 927.5,397.1 925.0,392.1 923.2,387.9Z M941.8,384.2 944.3,383.5 946.2,386.2 948.8,388.8 951.2,388.8 952.7,387.9 953.8,390.2 950.4,392.3 946.8,393.2 944.8,390.4 942.9,387.3Z"/>
<path fill="#2c9ede" d="M900.8,374.2 904.2,374.6 903.3,376.2 901.2,375.8Z M896.5,367.9 897.7,368.3 897.5,371.7 896.2,371.3Z"/>
<circle cx="873" cy="367.9" r="15" fill="#fff" stroke="#ff4500" stroke-width="10"/>
</svg>


<div id="texts">
<span id="t0" class="t w" style="font-size:66.5px;font-weight:700;left:444.00px;top:32.91px;transform:scaleX(0.9102)">EL PORTIL</span>
<span id="t1" class="t w" style="font-size:18.7px;left:552.00px;top:115.07px;transform:scaleX(0.9561)">HISZPANIA</span>
<span id="t2" class="t" style="font-size:32.7px;font-weight:700;left:126.00px;top:205.22px;transform:scaleX(0.9036)">NAJCIEPLEJ W SIERPNIU</span>
<span id="t3" class="t" style="font-size:18.5px;left:215.50px;top:253.74px;transform:scaleX(1.0507)">Sierpień jest najcieplejszym miesiącem w</span>
<span id="t4" class="t" style="font-size:18.5px;left:215.50px;top:276.99px;transform:scaleX(1.0513)">miejscowości El Portil, podczas którego</span>
<span id="t5" class="t" style="font-size:18.5px;left:215.50px;top:300.24px;transform:scaleX(1.0773)">średnie temperatury maksymalne dochodzą</span>
<span id="t6" class="t" style="font-size:18.5px;left:215.50px;top:323.49px;transform:scaleX(1.0401)">do 32°C, a minimalne osiągają 21°C.</span>
<span id="t7" class="t" style="font-size:32.7px;font-weight:700;left:126.00px;top:395.22px;transform:scaleX(0.9440)">NAJZIMNIEJ W STYCZNIU</span>
<span id="t8" class="t" style="font-size:18.5px;left:215.30px;top:448.44px;transform:scaleX(1.0743)">Natomiast najzimniejszym miesiącem w roku</span>
<span id="t9" class="t" style="font-size:18.5px;left:215.30px;top:471.79px;transform:scaleX(1.0713)">jest styczeń, z maksymalnymi temperaturami</span>
<span id="t10" class="t" style="font-size:18.5px;left:215.30px;top:495.14px;transform:scaleX(1.0674)">na poziomie 16°C oraz minimami w</span>
<span id="t11" class="t" style="font-size:18.5px;left:215.30px;top:518.49px;transform:scaleX(1.0325)">okolicach 8°C.</span>
<span id="t12" class="t" style="font-size:21px;font-weight:700;left:1155.00px;top:216.72px;transform-origin:0 17.78px;transform:rotate(90deg) scaleX(0.8996)">37° 12' 42'' N — 7° 2' 57'' W</span>
<span id="t13" class="t" style="font-size:14.5px;left:1137.50px;top:223.03px;transform-origin:0 12.27px;transform:rotate(90deg) scaleX(0.8793)">ANDALUZJA</span>
<span id="t14" class="t" style="font-size:44.6px;font-weight:700;left:446.20px;top:625.75px;transform:scaleX(0.9008)">TEMPERATURA</span>
<span id="t15" class="t" style="font-size:44.6px;font-weight:700;left:527.00px;top:1380.25px;transform:scaleX(0.9209)">OPADY</span>
<span id="t16" class="t" style="font-size:19.5px;font-weight:700;left:785.00px;top:748.09px;transform:scaleX(0.9394)">ŚREDNIA ROCZNA TEMPERATURA</span>
<span id="t17" class="t" style="font-size:18.5px;left:785.00px;top:794.84px;transform:scaleX(1.0504)"><span class="b">•</span> Średnia maksymalna roczna</span>
<span id="t18" class="t" style="font-size:18.5px;left:785.00px;top:816.44px;transform:scaleX(1.0701)">temperatura wynosi 22.6°C</span>
<span id="t19" class="t" style="font-size:18.5px;left:785.00px;top:865.14px;transform:scaleX(1.0787)"><span class="b">•</span> Średnia minimalna roczna temperatura</span>
<span id="t20" class="t" style="font-size:18.5px;left:785.00px;top:889.04px;transform:scaleX(0.9978)">sięga 14°C</span>
<span id="t21" class="t" style="font-size:18.5px;left:785.00px;top:936.64px;transform:scaleX(1.0871)"><span class="b">•</span> Uśredniona dobowa temperatura dla</span>
<span id="t22" class="t" style="font-size:18.5px;left:785.00px;top:959.84px;transform:scaleX(1.0613)">całego roku kształtuje się na poziomie</span>
<span id="t23" class="t" style="font-size:18.5px;left:785.00px;top:983.24px;transform:scaleX(0.9936)">18.3°C</span>
<span id="t24" class="t" style="font-size:21.8px;font-weight:700;left:463.75px;top:1136.65px;transform:scaleX(0.9899)">TEMPERATURA DOBOWA</span>
<span id="t25" class="t" style="font-size:17.5px;font-weight:700;color:rgba(0,0,0,.48);left:70.29px;top:1197.69px;transform:scaleX(0.9300)">STY</span>
<span id="t26" class="t" style="font-size:29px;font-weight:700;color:rgba(0,0,0,.48);left:64.20px;top:1247.25px">12°</span>
<span id="t27" class="t" style="font-size:17.5px;font-weight:700;color:rgba(0,0,0,.48);left:163.55px;top:1197.69px;transform:scaleX(0.9300)">LUT</span>
<span id="t28" class="t" style="font-size:29px;font-weight:700;color:rgba(0,0,0,.48);left:157.45px;top:1247.25px">12°</span>
<span id="t29" class="t" style="font-size:17.5px;font-weight:700;color:rgba(0,0,0,.48);left:254.09px;top:1197.69px;transform:scaleX(0.9300)">MAR</span>
<span id="t30" class="t" style="font-size:29px;font-weight:700;color:rgba(0,0,0,.48);left:250.70px;top:1247.25px">14°</span>
<span id="t31" class="t" style="font-size:17.5px;font-weight:700;color:rgba(0,0,0,.48);left:350.05px;top:1197.69px;transform:scaleX(0.9300)">KWI</span>
<span id="t32" class="t" style="font-size:29px;font-weight:700;color:rgba(0,0,0,.48);left:343.95px;top:1247.25px">16°</span>
<span id="t33" class="t" style="font-size:17.5px;font-weight:700;color:rgba(0,0,0,.48);left:441.94px;top:1197.69px;transform:scaleX(0.9300)">MAJ</span>
<span id="t34" class="t" style="font-size:29px;font-weight:700;color:rgba(0,0,0,.48);left:437.20px;top:1247.25px">19°</span>
<span id="t35" class="t" style="font-size:17.5px;font-weight:700;color:rgba(0,0,0,.48);left:536.10px;top:1197.69px;transform:scaleX(0.9300)">CZE</span>
<span id="t36" class="t" style="font-size:29px;font-weight:700;color:rgba(0,0,0,.48);left:530.45px;top:1247.25px">23°</span>
<span id="t37" class="t" style="font-size:17.5px;font-weight:700;color:rgba(0,0,0,.48);left:632.96px;top:1197.69px;transform:scaleX(0.9300)">LIP</span>
<span id="t38" class="t" style="font-size:29px;font-weight:700;color:rgba(0,0,0,.48);left:623.70px;top:1247.25px">26°</span>
<span id="t39" class="t" style="font-size:17.5px;font-weight:700;color:rgba(0,0,0,.48);left:725.75px;top:1197.69px;transform:scaleX(0.9300)">SIE</span>
<span id="t40" class="t" style="font-size:29px;font-weight:700;color:rgba(0,0,0,.48);left:716.95px;top:1247.25px">26°</span>
<span id="t41" class="t" style="font-size:17.5px;font-weight:700;color:rgba(0,0,0,.48);left:813.59px;top:1197.69px;transform:scaleX(0.9300)">WRZ</span>
<span id="t42" class="t" style="font-size:29px;font-weight:700;color:rgba(0,0,0,.48);left:810.20px;top:1247.25px">24°</span>
<span id="t43" class="t" style="font-size:17.5px;font-weight:700;color:rgba(0,0,0,.48);left:909.70px;top:1197.69px;transform:scaleX(0.9300)">PAŹ</span>
<span id="t44" class="t" style="font-size:29px;font-weight:700;color:rgba(0,0,0,.48);left:903.45px;top:1247.25px">20°</span>
<span id="t45" class="t" style="font-size:17.5px;font-weight:700;color:rgba(0,0,0,.48);left:1005.96px;top:1197.69px;transform:scaleX(0.9300)">LIS</span>
<span id="t46" class="t" style="font-size:29px;font-weight:700;color:rgba(0,0,0,.48);left:996.70px;top:1247.25px">15°</span>
<span id="t47" class="t" style="font-size:17.5px;font-weight:700;color:rgba(0,0,0,.48);left:1093.79px;top:1197.69px;transform:scaleX(0.9300)">GRU</span>
<span id="t48" class="t" style="font-size:29px;font-weight:700;color:rgba(0,0,0,.48);left:1089.95px;top:1247.25px">13°</span>
<span id="t49" class="t" style="font-size:18.5px;left:785.00px;top:1507.84px;transform:scaleX(1.0613)">Średnia roczna suma opadów w</span>
<span id="t50" class="t" style="font-size:18.5px;left:785.00px;top:1530.94px;transform:scaleX(1.0665)">miejscowości El Portil to około 397 mm.</span>
<span id="t51" class="t" style="font-size:18.5px;left:785.00px;top:1554.74px;transform:scaleX(1.0544)">Różnica pomiędzy najwyższymi opadami</span>
<span id="t52" class="t" style="font-size:18.5px;left:785.00px;top:1578.64px;transform:scaleX(1.0409)">(marzec) i najniższymi (lipiec) wynosi 65</span>
<span id="t53" class="t" style="font-size:18.5px;left:785.00px;top:1602.04px;transform:scaleX(1.0898)">mm.</span>
<span id="t54" class="t" style="font-size:18.5px;left:785.00px;top:1650.14px;transform:scaleX(1.0651)">Najwięcej opadów pojawia się w marcu,</span>
<span id="t55" class="t" style="font-size:18.5px;left:785.00px;top:1673.64px;transform:scaleX(1.0653)">w tym okresie miesięczna suma opadów</span>
<span id="t56" class="t" style="font-size:18.5px;left:785.00px;top:1697.44px;transform:scaleX(1.0589)">oscyluje wokół 65 mm, a</span>
<span id="t57" class="t" style="font-size:18.5px;left:785.00px;top:1720.54px;transform:scaleX(1.0849)">prawdopodobieństwo ich wystąpienia</span>
<span id="t58" class="t" style="font-size:18.5px;left:785.00px;top:1744.34px;transform:scaleX(1.0707)">wynosi około 20%. Natomiast najmniej</span>
<span id="t59" class="t" style="font-size:18.5px;left:785.00px;top:1768.24px;transform:scaleX(1.0683)">opadów notuje się w lipcu - średnio 0.8</span>
<span id="t60" class="t" style="font-size:18.5px;left:785.00px;top:1792.04px;transform:scaleX(1.0578)">mm, a szanse na wystąpienie opadów</span>
<span id="t61" class="t" style="font-size:18.5px;left:785.00px;top:1815.84px;transform:scaleX(1.0220)">wynoszą 0%.</span>
<span id="t62" class="t w" style="font-size:16px;font-weight:700;left:319.00px;top:1879.66px;transform:scaleX(0.9844)">SZANSA OPADÓW</span>
<span id="t63" class="t" style="font-size:17.3px;font-weight:700;color:#fff;left:48.71px;top:1958.76px;transform:scaleX(1.0400)">18%</span>
<span id="t64" class="t" style="font-size:12.3px;font-weight:700;left:55.17px;top:1999.49px;transform:scaleX(0.8800)">STY</span>
<span id="t65" class="t" style="font-size:17.3px;font-weight:700;color:#fff;left:107.19px;top:1958.76px;transform:scaleX(1.0400)">18%</span>
<span id="t66" class="t" style="font-size:12.3px;font-weight:700;left:113.66px;top:1999.49px;transform:scaleX(0.8800)">LUT</span>
<span id="t67" class="t" style="font-size:17.3px;font-weight:700;color:#fff;left:165.67px;top:1958.76px;transform:scaleX(1.0400)">20%</span>
<span id="t68" class="t" style="font-size:12.3px;font-weight:700;left:170.33px;top:1999.49px;transform:scaleX(0.8800)">MAR</span>
<span id="t69" class="t" style="font-size:17.3px;font-weight:700;color:#fff;left:224.15px;top:1958.76px;transform:scaleX(1.0400)">18%</span>
<span id="t70" class="t" style="font-size:12.3px;font-weight:700;left:230.62px;top:1999.49px;transform:scaleX(0.8800)">KWI</span>
<span id="t71" class="t" style="font-size:17.3px;font-weight:700;color:#fff;left:282.63px;top:1958.76px;transform:scaleX(1.0400)">10%</span>
<span id="t72" class="t" style="font-size:12.3px;font-weight:700;left:288.19px;top:1999.49px;transform:scaleX(0.8800)">MAJ</span>
<span id="t73" class="t" style="font-size:17.3px;font-weight:700;left:346.11px;top:1958.76px;transform:scaleX(1.0400)">2%</span>
<span id="t74" class="t" style="font-size:12.3px;font-weight:700;left:347.27px;top:1999.49px;transform:scaleX(0.8800)">CZE</span>
<span id="t75" class="t" style="font-size:17.3px;font-weight:700;left:404.59px;top:1958.76px;transform:scaleX(1.0400)">0%</span>
<span id="t76" class="t" style="font-size:12.3px;font-weight:700;left:408.16px;top:1999.49px;transform:scaleX(0.8800)">LIP</span>
<span id="t77" class="t" style="font-size:17.3px;font-weight:700;left:463.07px;top:1958.76px;transform:scaleX(1.0400)">0%</span>
<span id="t78" class="t" style="font-size:12.3px;font-weight:700;left:466.34px;top:1999.49px;transform:scaleX(0.8800)">SIE</span>
<span id="t79" class="t" style="font-size:17.3px;font-weight:700;left:521.55px;top:1958.76px;transform:scaleX(1.0400)">4%</span>
<span id="t80" class="t" style="font-size:12.3px;font-weight:700;left:521.22px;top:1999.49px;transform:scaleX(0.8800)">WRZ</span>
<span id="t81" class="t" style="font-size:17.3px;font-weight:700;color:#fff;left:575.03px;top:1958.76px;transform:scaleX(1.0400)">17%</span>
<span id="t82" class="t" style="font-size:12.3px;font-weight:700;left:581.60px;top:1999.49px;transform:scaleX(0.8800)">PAŹ</span>
<span id="t83" class="t" style="font-size:17.3px;font-weight:700;color:#fff;left:633.51px;top:1958.76px;transform:scaleX(1.0400)">24%</span>
<span id="t84" class="t" style="font-size:12.3px;font-weight:700;left:642.08px;top:1999.49px;transform:scaleX(0.8800)">LIS</span>
<span id="t85" class="t" style="font-size:17.3px;font-weight:700;color:#fff;left:691.99px;top:1958.76px;transform:scaleX(1.0400)">15%</span>
<span id="t86" class="t" style="font-size:12.3px;font-weight:700;left:696.96px;top:1999.49px;transform:scaleX(0.8800)">GRU</span>
<span id="t87" class="t" style="font-size:19.5px;font-weight:700;left:785.00px;top:1892.39px;transform:scaleX(0.9370)">ROCZNE OPADY WEDŁUG TYPU</span>
<span id="t88" class="t" style="font-size:18.5px;left:785.00px;top:1926.24px;transform:scaleX(0.9933)"><span class="b">•</span> Deszcz: 100%</span>
<span id="t89" class="t" style="font-size:18.5px;left:785.00px;top:1954.84px;transform:scaleX(0.9899)"><span class="b">•</span> Śnieg: 0%</span>
<span id="t90" class="t" style="font-size:14.7px;font-weight:700;color:#b0dcfe;font-family:'DejaVu Sans', sans-serif;left:185.00px;top:2104.26px;transform:scaleX(1.0676)">CC BY-ND 4.0</span>
<span id="t91" class="t w" style="font-size:22.3px;font-weight:700;left:982.00px;top:2099.92px;transform:scaleX(0.9457)">METEOATLAS.PL</span>
</div>
</div>
</body></html>
